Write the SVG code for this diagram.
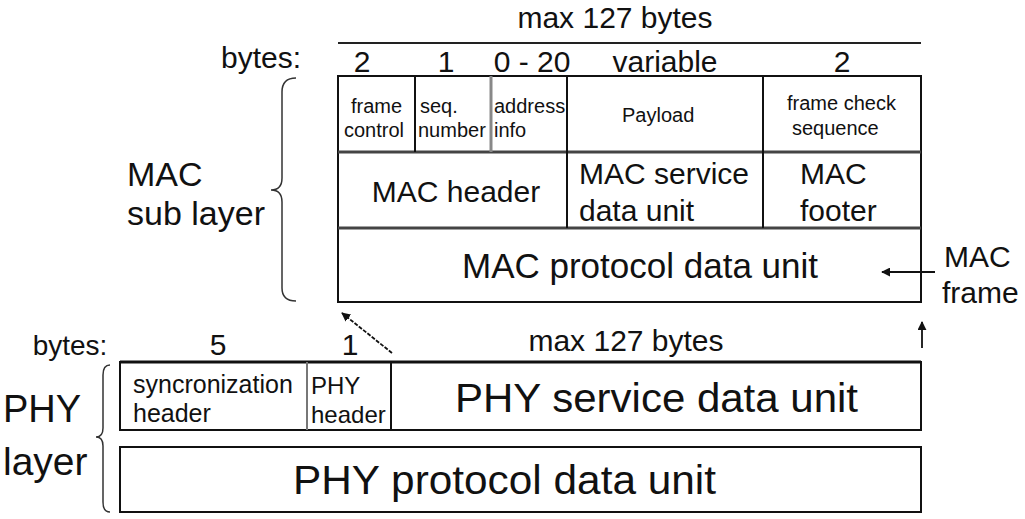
<svg xmlns="http://www.w3.org/2000/svg" width="1025" height="519" viewBox="0 0 1025 519">
<defs>
<style>
text{font-family:"Liberation Sans",Arial,sans-serif;fill:#111}
.box{fill:#fff;stroke:#111;stroke-width:2}
.div{stroke:#111;stroke-width:2}
.sep{stroke:#444;stroke-width:3}
.s20{font-size:20px}
.s30{font-size:30px}
.s40{font-size:40px}
.brace{fill:none;stroke:#333;stroke-width:1.5}
.conn{fill:none;stroke:#111;stroke-width:1.8}
</style>
<marker id="ah" viewBox="0 0 10 10" refX="9" refY="5" markerWidth="5" markerHeight="5" orient="auto-start-reverse">
<path d="M0,0 L10,5 L0,10 z" fill="#111"/>
</marker>
</defs>
<rect width="1025" height="519" fill="#fff"/>

<g id="mac-header-labels">
<text x="615" y="28" class="s30" text-anchor="middle">max 127 bytes</text>
<line x1="338" y1="43" x2="921" y2="43" stroke="#222" stroke-width="2"/>
<text x="261" y="68" class="s30" text-anchor="middle">bytes:</text>
<text x="362" y="72" class="s30" text-anchor="middle">2</text>
<text x="446" y="72" class="s30" text-anchor="middle">1</text>
<text x="532" y="72" class="s30" text-anchor="middle">0 - 20</text>
<text x="665" y="72" class="s30" text-anchor="middle">variable</text>
<text x="842" y="72" class="s30" text-anchor="middle">2</text>
</g>

<g id="mac-frame">
<rect class="box" x="338" y="76" width="583" height="226"/>
<line class="sep" x1="338" y1="152" x2="921" y2="152"/>
<line class="sep" x1="338" y1="228" x2="921" y2="228"/>
</g>

<g id="frame-control">
<line class="div" x1="415" y1="76" x2="415" y2="152"/>
<text x="351" y="113" class="s20">frame</text>
<text x="344" y="137" class="s20">control</text>
</g>
<g id="seq-number">
<line x1="491" y1="76" x2="491" y2="152" stroke="#888" stroke-width="3"/>
<text x="420" y="113" class="s20">seq.</text>
<text x="418" y="137" class="s20">number</text>
</g>
<g id="address-info">
<line class="div" x1="567" y1="76" x2="567" y2="228"/>
<text x="494" y="113" class="s20">address</text>
<text x="494" y="137" class="s20">info</text>
</g>
<g id="payload">
<line class="div" x1="763" y1="76" x2="763" y2="228"/>
<text x="622" y="122" class="s20">Payload</text>
</g>
<g id="fcs">
<text x="787" y="110" class="s20">frame check</text>
<text x="792" y="135" class="s20">sequence</text>
</g>
<g id="mac-header">
<text x="456" y="202" class="s30" text-anchor="middle">MAC header</text>
</g>
<g id="msdu">
<text x="579" y="184" class="s30">MAC service</text>
<text x="579" y="221" class="s30">data unit</text>
</g>
<g id="mac-footer">
<text x="800" y="184" class="s30">MAC</text>
<text x="800" y="221" class="s30">footer</text>
</g>
<g id="mpdu">
<text x="640" y="278" font-size="35" text-anchor="middle">MAC protocol data unit</text>
</g>
<g id="mac-frame-label">
<text x="944" y="267" class="s30">MAC</text>
<text x="942" y="303" class="s30">frame</text>
</g>

<g id="mac-sublayer">
<text x="127" y="186" font-size="34">MAC</text>
<text x="127" y="225" font-size="34">sub layer</text>
<path class="brace" d="M296,78 Q282,78 282,92 L282,178 Q282,190 271,190 Q282,190 282,202 L282,288 Q282,301 296,301"/>
</g>

<g id="phy-labels">
<text x="70" y="355" font-size="28" text-anchor="middle">bytes:</text>
<text x="218" y="355" class="s30" text-anchor="middle">5</text>
<text x="350" y="355" class="s30" text-anchor="middle">1</text>
<text x="626" y="351" class="s30" text-anchor="middle">max 127 bytes</text>
</g>

<g id="phy-service-row">
<rect class="box" x="120" y="362" width="801" height="68"/>
<line x1="120" y1="362" x2="921" y2="362" stroke="#111" stroke-width="3"/>
</g>
<g id="sync-header">
<line x1="307" y1="362" x2="307" y2="430" stroke="#777" stroke-width="2"/>
<text x="133" y="393" font-size="25">syncronization</text>
<text x="133" y="422" font-size="25">header</text>
</g>
<g id="phy-header">
<line class="div" x1="391" y1="362" x2="391" y2="430"/>
<text x="311" y="394" font-size="24">PHY</text>
<text x="311" y="423" font-size="24">header</text>
</g>
<g id="psdu">
<text x="455" y="412" class="s40" textLength="403" lengthAdjust="spacingAndGlyphs">PHY service data unit</text>
</g>
<g id="ppdu">
<rect class="box" x="120" y="447" width="801" height="65"/>
<text x="293" y="494" class="s40" textLength="423" lengthAdjust="spacingAndGlyphs">PHY protocol data unit</text>
</g>

<g id="phy-layer">
<text x="3" y="422" font-size="38">PHY</text>
<text x="3" y="475" font-size="39">layer</text>
<path class="brace" d="M110,365 Q103,365 103,375 L103,428 Q103,437 96,437 Q103,437 103,446 L103,502 Q103,512 110,512"/>
</g>

<g id="connectors">
<line class="conn" x1="935" y1="272" x2="882" y2="272" marker-end="url(#ah)"/>
<line class="conn" x1="392" y1="353" x2="342" y2="313" stroke-dasharray="4 1.5" stroke-width="2" marker-end="url(#ah)"/>
<line class="conn" x1="922" y1="348" x2="922" y2="322" marker-end="url(#ah)"/>
</g>
</svg>
